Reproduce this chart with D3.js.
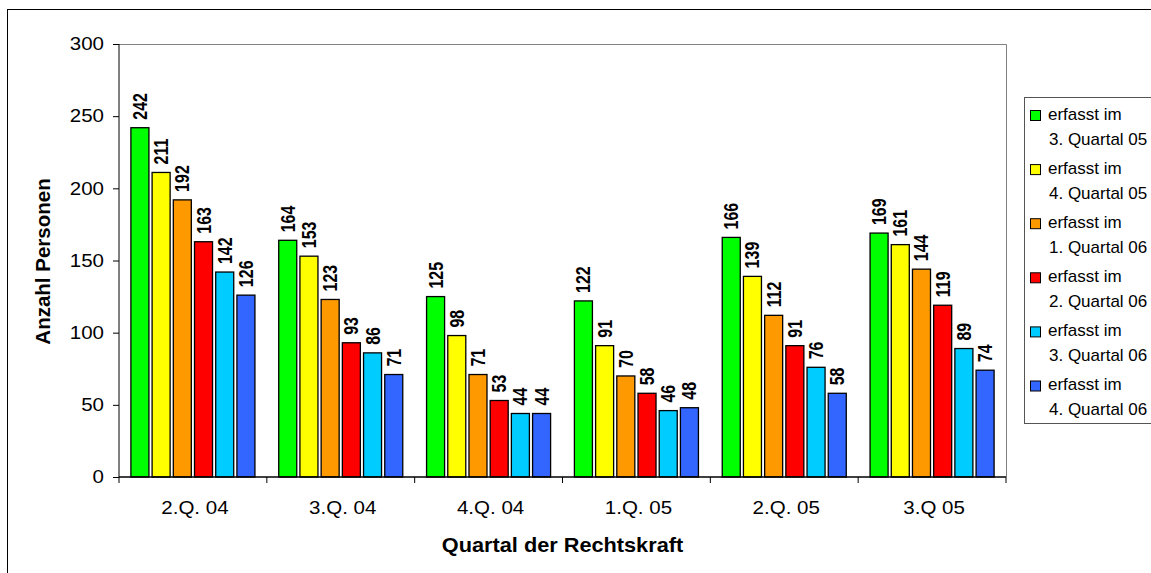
<!DOCTYPE html>
<html>
<head>
<meta charset="utf-8">
<script src="https://cdn.jsdelivr.net/npm/d3@7"></script>
<style>
  html, body { margin: 0; padding: 0; background: #fff; }
  svg { display: block; font-family: Arial, "Liberation Sans", sans-serif; }
</style>
</head>
<body>
<svg id="chart" width="1151" height="573"></svg>
<script>
// Quarters in which the judgement became final
const categories = ["2.Q. 04", "3.Q. 04", "4.Q. 04", "1.Q. 05", "2.Q. 05", "3.Q 05"];

// Recording quarters (series)
const seriesNames = [
  ["erfasst im", "3. Quartal 05"],
  ["erfasst im", "4. Quartal 05"],
  ["erfasst im", "1. Quartal 06"],
  ["erfasst im", "2. Quartal 06"],
  ["erfasst im", "3. Quartal 06"],
  ["erfasst im", "4. Quartal 06"]
];
const seriesColors = ["#00FF00", "#FFFF00", "#FF9900", "#FF0000", "#00CCFF", "#3366FF"];

// Persons per series, one value per category
const s3q05 = [242, 164, 125, 122, 166, 169];
const s4q05 = [211, 153, 98, 91, 139, 161];
const s1q06 = [192, 123, 71, 70, 112, 144];
const s2q06 = [163, 93, 53, 58, 91, 119];
const s3q06 = [142, 86, 44, 46, 76, 89];
const s4q06 = [126, 71, 44, 48, 58, 74];
const seriesValues = [s3q05, s4q05, s1q06, s2q06, s3q06, s4q06];

const yTicks = [0, 50, 100, 150, 200, 250, 300];

const svg = d3.select("#chart");

// outer chart frame
svg.append("rect")
  .attr("x", 7.5).attr("y", 9.5)
  .attr("width", 1200).attr("height", 600)
  .attr("fill", "none").attr("stroke", "#000").attr("stroke-width", 1);

const plot = { left: 119, right: 1006, top: 44, bottom: 477 };

const x0 = d3.scaleBand()
  .domain(categories)
  .range([plot.left, plot.right])
  .paddingInner(0).paddingOuter(0);

const innerPad = 11.9;
const x1 = d3.scaleBand()
  .domain(d3.range(seriesNames.length))
  .range([innerPad, x0.bandwidth() - innerPad])
  .paddingInner(0.15).paddingOuter(0);

const y = d3.scaleLinear().domain([0, 300]).range([plot.bottom, plot.top]);

// plot area border (top and right in grey)
svg.append("path")
  .attr("d", `M${plot.left},${plot.top + 0.5}H${plot.right + 0.5}V${plot.bottom}`)
  .attr("fill", "none").attr("stroke", "#808080").attr("stroke-width", 1);

// bars with rotated value labels
const groups = svg.append("g").selectAll("g")
  .data(categories)
  .join("g")
  .attr("transform", d => `translate(${x0(d)},0)`);

groups.each(function (cat, ci) {
  const g = d3.select(this);
  seriesValues.forEach((vals, si) => {
    const v = vals[ci];
    const bx = x1(si);
    g.append("rect")
      .attr("x", bx).attr("y", y(v))
      .attr("width", x1.bandwidth()).attr("height", y(0) - y(v))
      .attr("fill", seriesColors[si])
      .attr("stroke", "#000").attr("stroke-width", 1.3);
    g.append("text")
      .attr("transform", `translate(${bx + x1.bandwidth() / 2 + 7},${y(v) - 8}) scale(1.22,1) rotate(-90)`)
      .attr("font-size", 16).attr("font-weight", "bold")
      .attr("fill", "#000")
      .text(v);
  });
});

// y axis
const yAxis = d3.axisLeft(y).tickValues(yTicks).tickSize(6).tickPadding(0);
const gy = svg.append("g").attr("transform", `translate(${plot.left},0)`).call(yAxis);
gy.select(".domain").attr("stroke", "#000").attr("d", `M0,${plot.top}V${plot.bottom}`);
gy.selectAll(".tick line").attr("stroke", "#000");
gy.selectAll(".tick text")
  .attr("x", 0).attr("dy", "0.3em")
  .attr("transform", "translate(-15,0) scale(1.08,1)")
  .attr("font-size", 19)
  .attr("font-family", "Arial, 'Liberation Sans', sans-serif")
  .attr("fill", "#000");

// x axis with ticks at band boundaries
const gx = svg.append("g").attr("transform", `translate(0,${plot.bottom})`);
gx.append("line")
  .attr("x1", plot.left).attr("x2", plot.right)
  .attr("stroke", "#000").attr("stroke-width", 1.3);
const bounds = categories.map(c => x0(c)).concat([plot.right]);
gx.selectAll("line.tk").data(bounds).join("line")
  .attr("class", "tk")
  .attr("x1", d => d).attr("x2", d => d)
  .attr("y1", 0).attr("y2", 6)
  .attr("stroke", "#000");
gx.selectAll("text").data(categories).join("text")
  .attr("transform", d => `translate(${x0(d) + x0.bandwidth() / 2 + 2},37) scale(1.08,1)`)
  .attr("text-anchor", "middle")
  .attr("font-size", 19).attr("fill", "#000")
  .text(d => d);

// axis titles
svg.append("text")
  .attr("transform", `translate(${(plot.left + plot.right) / 2},552) scale(1.06,1)`)
  .attr("text-anchor", "middle")
  .attr("font-size", 20.5).attr("font-weight", "bold")
  .text("Quartal der Rechtskraft");

svg.append("text")
  .attr("transform", `translate(50,${(plot.top + plot.bottom) / 2 + 1}) rotate(-90)`)
  .attr("text-anchor", "middle")
  .attr("font-size", 20.5).attr("font-weight", "bold")
  .text("Anzahl Personen");

// legend
const legend = svg.append("g").attr("transform", "translate(1024,97)");
legend.append("rect")
  .attr("x", 0.5).attr("y", 0.5)
  .attr("width", 160).attr("height", 326)
  .attr("fill", "#fff").attr("stroke", "#555").attr("stroke-width", 1);

const items = legend.selectAll("g.item").data(seriesNames).join("g")
  .attr("class", "item")
  .attr("transform", (d, i) => `translate(0,${i * 54.1})`);
items.append("rect")
  .attr("x", 6.5).attr("y", 13.5)
  .attr("width", 10).attr("height", 10)
  .attr("fill", (d, i) => seriesColors[i])
  .attr("stroke", "#000").attr("stroke-width", 1);
items.append("text")
  .attr("x", 24).attr("y", 22.5)
  .attr("font-size", 17).attr("fill", "#000")
  .text(d => d[0]);
items.append("text")
  .attr("x", 25).attr("y", 47.5)
  .attr("font-size", 17).attr("fill", "#000")
  .text(d => d[1]);
</script>
</body>
</html>
